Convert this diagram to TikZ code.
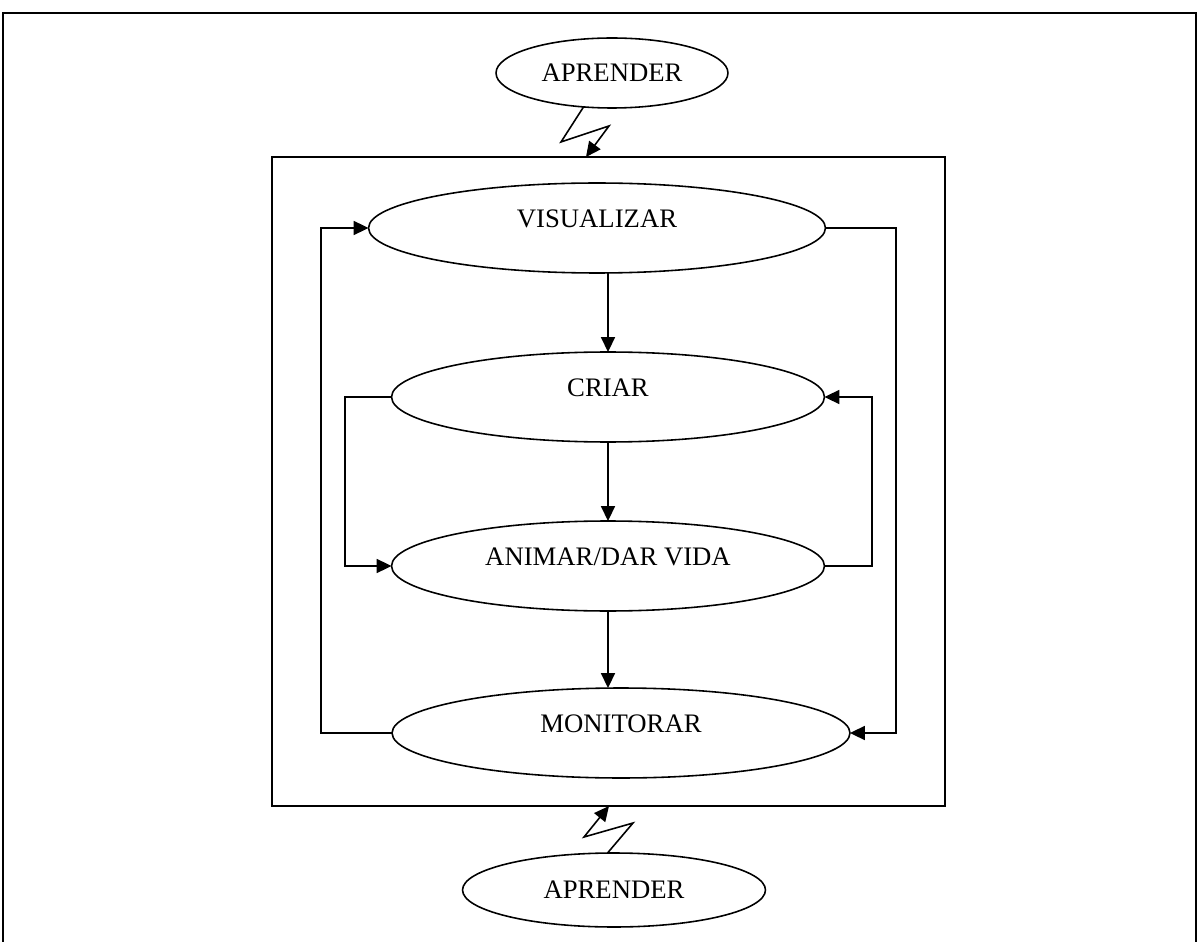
\documentclass[tikz,border=0pt]{standalone}
\usepackage{fontspec}
\setmainfont{Liberation Serif}
\usetikzlibrary{shapes.geometric,arrows.meta}
\begin{document}
\begin{tikzpicture}[x=0.02cm,y=-0.02cm,
  every node/.style={font=\fontsize{15.2}{18}\selectfont},
  oval/.style={draw,ellipse,line width=0.9pt,inner sep=0pt,outer sep=0pt},
  hi/.style={text height=0pt,text depth=1pt},
  ln/.style={line width=0.9pt},
  arr/.style={line width=0.9pt,-{Triangle[length=8.5pt,width=8pt]}}]
\useasboundingbox (0,0) rectangle (1200,942);
\draw[line width=0.9pt] (3,942) -- (3,13) -- (1196,13) -- (1196,942);
\node[draw,line width=0.9pt,minimum width=13.46cm,minimum height=12.98cm,inner sep=0pt,outer sep=0pt] (box) at (608.5,481.5) {};
\node[oval,minimum width=4.64cm,minimum height=1.4cm] (ta) at (612,73) {APRENDER};
\node[oval,hi,minimum width=9.14cm,minimum height=1.8cm] (v) at (597,228) {VISUALIZAR};
\node[oval,hi,minimum width=8.66cm,minimum height=1.8cm] (c) at (608,397) {CRIAR};
\node[oval,hi,minimum width=8.66cm,minimum height=1.8cm] (a) at (608,566) {ANIMAR/DAR VIDA};
\node[oval,hi,minimum width=9.16cm,minimum height=1.8cm] (m) at (621,733) {MONITORAR};
\node[oval,minimum width=6.06cm,minimum height=1.48cm] (ba) at (614,890) {APRENDER};
\coordinate (t1) at (586,157);
\coordinate (t2) at (609,806);
% lightning connectors
\draw[arr] (ta.230) -- (561,142) -- (609,126) -- (t1);
\draw[arr] (ba.100) -- (633,823) -- (584,837) -- (t2);
% vertical arrows
\draw[arr] (c.north |- v.south) -- (c.north);
\draw[arr] (c.south) -- (a.north);
\draw[arr] (a.south) -- (a.south |- m.north);
% outer loops
\draw[arr] (m.west) -- (321,733) -- (321,228) -- (v.west);
\draw[arr] (v.east) -- (896,228) -- (896,733) -- (m.east);
% inner loops
\draw[arr] (c.west) -- (345,397) -- (345,566) -- (a.west);
\draw[arr] (a.east) -- (872,566) -- (872,397) -- (c.east);
\end{tikzpicture}
\end{document}
